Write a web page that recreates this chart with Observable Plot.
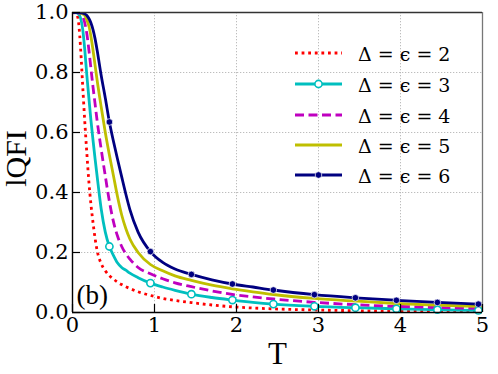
<!DOCTYPE html>
<html><head><meta charset="utf-8">
<script src="https://cdn.jsdelivr.net/npm/d3@7"></script>
<script src="https://cdn.jsdelivr.net/npm/@observablehq/plot@0.6"></script>
<style>
body{margin:0;background:#fff}
</style>
</head><body><div id="chart"></div>
<script>
// Temperature samples
const T = [0, 0.025, 0.05, 0.075, 0.1, 0.125, 0.15, 0.175, 0.2, 0.225, 0.25, 0.275, 0.3, 0.35, 0.4, 0.45, 0.5, 0.55, 0.6, 0.65, 0.7, 0.8, 0.95, 1.1, 1.25, 1.45, 1.7, 1.95, 2.2, 2.45, 2.95, 3.45, 3.95, 4.45, 4.95, 5.0];
// lQFI, one array per Δ = ϵ
const qfi2 = [1, 0.999, 0.995, 0.965, 0.875, 0.752, 0.635, 0.53, 0.435, 0.36, 0.3, 0.248, 0.207, 0.163, 0.139, 0.123, 0.111, 0.101, 0.093, 0.086, 0.08, 0.069, 0.057, 0.047, 0.04, 0.033, 0.025, 0.019, 0.015, 0.012, 0.0085, 0.006, 0.0045, 0.0036, 0.003, 0.003];
const qfi3 = [1, 1, 0.999, 0.995, 0.98, 0.943, 0.875, 0.79, 0.715, 0.64, 0.575, 0.513, 0.455, 0.345, 0.268, 0.22, 0.19, 0.165, 0.15, 0.141, 0.131, 0.116, 0.098, 0.085, 0.074, 0.061, 0.05, 0.0415, 0.034, 0.028, 0.0207, 0.016, 0.0124, 0.0093, 0.0068, 0.0065];
const qfi4 = [1, 1, 1, 0.998, 0.995, 0.986, 0.965, 0.929, 0.875, 0.813, 0.752, 0.696, 0.64, 0.544, 0.455, 0.37, 0.302, 0.254, 0.22, 0.196, 0.178, 0.15, 0.129, 0.1125, 0.099, 0.086, 0.072, 0.06, 0.052, 0.045, 0.034, 0.026, 0.0205, 0.0167, 0.0138, 0.0135];
const qfi5 = [1, 1, 1, 0.999, 0.998, 0.995, 0.99, 0.975, 0.955, 0.92, 0.875, 0.825, 0.775, 0.685, 0.6, 0.525, 0.455, 0.385, 0.325, 0.28, 0.245, 0.2, 0.16, 0.139, 0.122, 0.107, 0.091, 0.079, 0.069, 0.06, 0.047, 0.038, 0.03, 0.0245, 0.0204, 0.02];
const qfi6 = [1, 1, 1, 1, 0.999, 0.998, 0.995, 0.99, 0.98, 0.965, 0.943, 0.913, 0.875, 0.79, 0.715, 0.635, 0.57, 0.51, 0.452, 0.395, 0.343, 0.268, 0.203, 0.167, 0.145, 0.127, 0.109, 0.095, 0.085, 0.075, 0.0595, 0.049, 0.0407, 0.0336, 0.0278, 0.0273];
const markerT = [0.45, 0.95, 1.45, 1.95, 2.45, 2.95, 3.45, 3.95, 4.45, 4.95];
const seriesLabels = ["Δ = ϵ = 2", "Δ = ϵ = 3", "Δ = ϵ = 4", "Δ = ϵ = 5", "Δ = ϵ = 6"];
const xTicks = [0, 1, 2, 3, 4, 5];
const yTicks = [0, 0.2, 0.4, 0.6, 0.8, 1.0];

const colors = ["#ff0000", "#00bfbf", "#bf00bf", "#bfbf00", "#000080"];
const dashes = ["2.8,3.8", null, "9,4.5", null, null];
const values = [qfi2, qfi3, qfi4, qfi5, qfi6];
const rows = values.map((vals, i) => T.map((t, j) => ({T: t, v: vals[j], s: i})));

const W = 498, H = 374, mL = 72, mR = 16, mT = 12, mB = 62;
const tickLenY = 8 / (H - mT - mB);
const tickLenX = 8 / (W - mL - mR) * 5;
const font = "'DejaVu Serif', serif";

const lineMarks = rows.map((r, i) => Plot.line(r, {
  x: "T", y: "v", stroke: colors[i], strokeWidth: 2.8,
  strokeDasharray: dashes[i] || undefined, strokeLinecap: "butt",
  curve: "monotone-x", clip: true
}));

const chart = Plot.plot({
  width: W, height: H,
  marginLeft: mL, marginRight: mR, marginTop: mT, marginBottom: mB,
  style: {fontFamily: font, fontSize: "21px", background: "white", color: "black"},
  x: {domain: [0, 5]},
  y: {domain: [0, 1]},
  marks: [
    Plot.ruleX(xTicks.slice(1, -1), {stroke: "#b5b5b5", strokeWidth: 0.9, strokeDasharray: "1.3,1.7"}),
    Plot.ruleY(yTicks.slice(1, -1), {stroke: "#b5b5b5", strokeWidth: 0.9, strokeDasharray: "1.3,1.7"}),
    ...lineMarks,
    Plot.dot(rows[1].filter(d => markerT.includes(d.T)), {x: "T", y: "v", r: 3.6, fill: "white", stroke: colors[1], strokeWidth: 1.6}),
    Plot.dot(rows[4].filter(d => markerT.includes(d.T)), {x: "T", y: "v", r: 3.3, fill: colors[4], stroke: "white", strokeWidth: 0.7}),
    Plot.ruleX([5], {stroke: "#777", strokeWidth: 1.3}),
    Plot.ruleY([1], {stroke: "#333", strokeWidth: 1.3}),
    Plot.ruleX([0], {stroke: "black", strokeWidth: 1.4}),
    Plot.ruleY([0], {stroke: "black", strokeWidth: 1.4}),
    Plot.ruleX(xTicks, {y1: 0, y2: tickLenY, stroke: "black", strokeWidth: 1.2}),
    Plot.ruleY(yTicks, {x1: 0, x2: tickLenX, stroke: "black", strokeWidth: 1.2}),
    Plot.axisX({ticks: xTicks, tickSize: 0, tickPadding: 5, tickFormat: d => String(d), label: null, fontSize: 21}),
    Plot.axisY({ticks: yTicks, tickSize: 0, tickPadding: 4, tickFormat: d => d.toFixed(1), label: null, fontSize: 21}),
    Plot.text(["T"], {text: d => d, frameAnchor: "bottom", dy: 42, fontSize: 31, textAnchor: "middle", lineAnchor: "middle", fontFamily: "Liberation Serif"}),
    Plot.text(["lQFI"], {text: d => d, frameAnchor: "left", dx: -56, dy: -4, rotate: -90, fontSize: 30, textAnchor: "middle", lineAnchor: "middle", fontFamily: "Liberation Serif"}),
    Plot.text(["(b)"], {text: d => d, frameAnchor: "bottom-left", dx: 4, dy: -17, fontSize: 27, textAnchor: "start", lineAnchor: "middle", fontFamily: "Liberation Serif"})
  ]
});

// Legend (no frame), upper right
const svg = d3.select(chart);
const lg = svg.append("g");
const rowY = [53, 84, 115, 145, 175];
seriesLabels.forEach((lab, i) => {
  const y = rowY[i];
  const ln = lg.append("line").attr("x1", 295).attr("x2", 342).attr("y1", y).attr("y2", y)
    .attr("stroke", colors[i]).attr("stroke-width", 2.8);
  if (dashes[i]) ln.attr("stroke-dasharray", dashes[i]);
  if (i === 1) lg.append("circle").attr("cx", 318.5).attr("cy", y).attr("r", 3.6).attr("fill", "white").attr("stroke", colors[1]).attr("stroke-width", 1.6);
  if (i === 4) lg.append("circle").attr("cx", 318.5).attr("cy", y).attr("r", 3.3).attr("fill", colors[4]).attr("stroke", "white").attr("stroke-width", 0.7);
  lg.append("text").attr("x", 358).attr("y", y + 1)
    .attr("text-anchor", "start").attr("dominant-baseline", "central")
    .attr("font-family", font).style("font-size", "19px").attr("fill", "black").text(lab);
});
document.getElementById("chart").appendChild(chart);
</script>
</body></html>
